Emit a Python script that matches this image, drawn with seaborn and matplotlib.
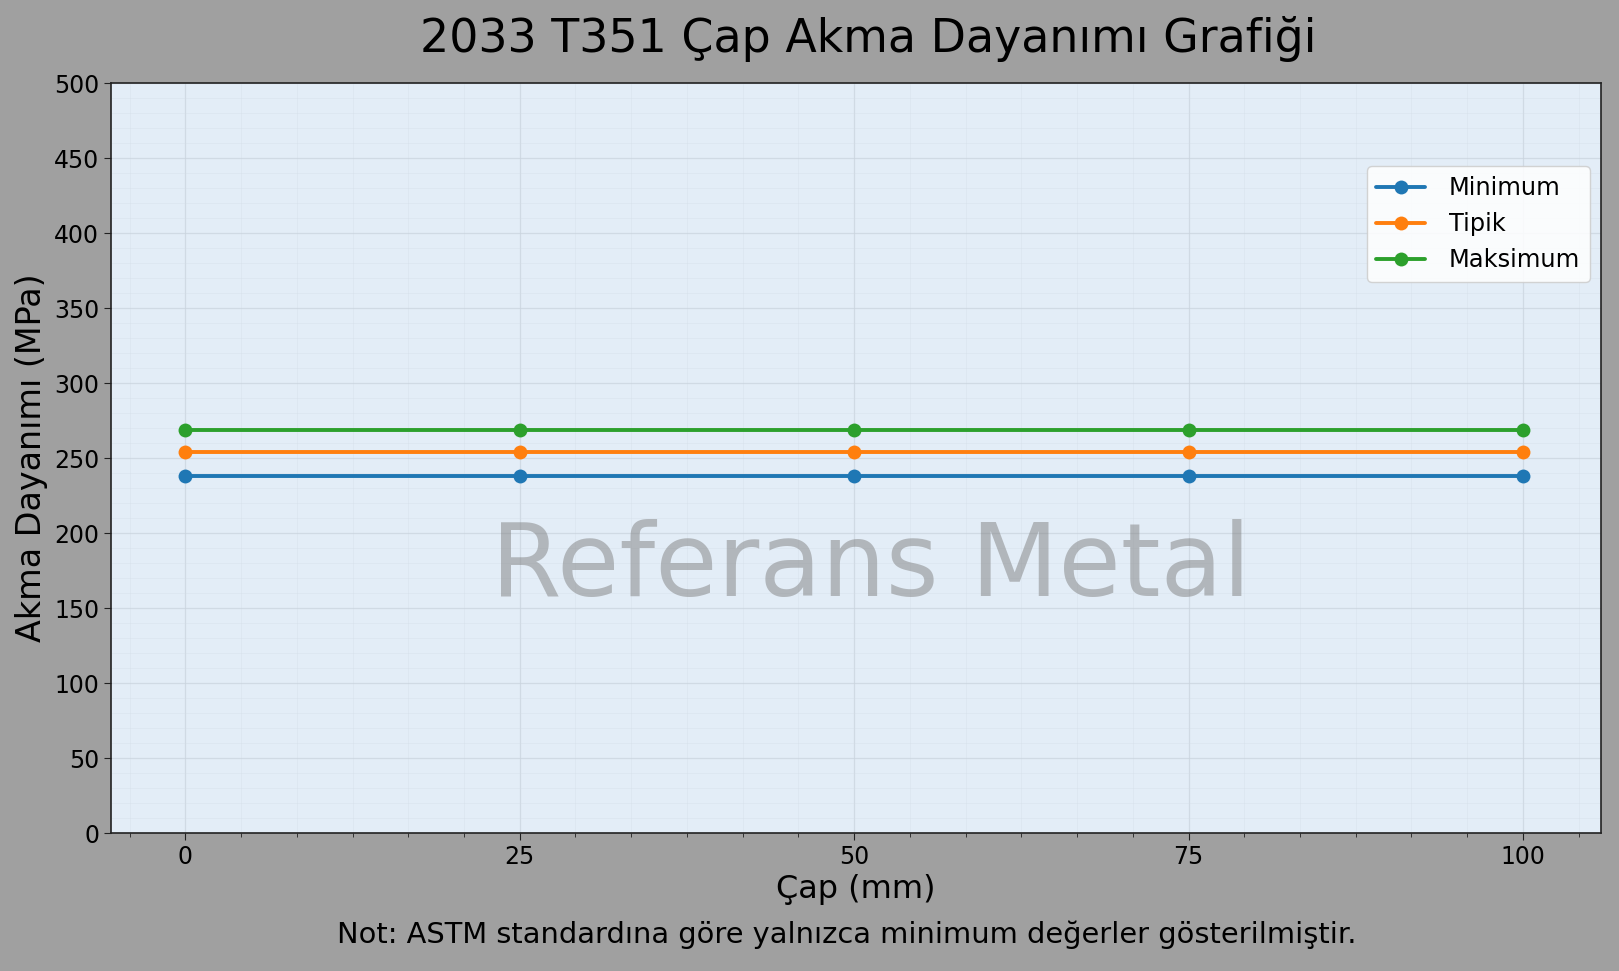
import numpy as np
import pandas as pd
import matplotlib
matplotlib.use('Agg')
import matplotlib.pyplot as plt
import seaborn as sns
from matplotlib.ticker import MultipleLocator

# veri
cap = [0, 25, 50, 75, 100]
minimum = [238, 238, 238, 238, 238]
tipik = [254, 254, 254, 254, 254]
maksimum = [269, 269, 269, 269, 269]
seriler = ['Minimum', 'Tipik', 'Maksimum']
renkler = ['#1f77b4', '#ff7f0e', '#2ca02c']
y_ticks = [0, 50, 100, 150, 200, 250, 300, 350, 400, 450, 500]

sns.set_style('ticks')
plt.rcParams['font.family'] = ['DejaVu Sans']
plt.rcParams['text.color'] = 'black'
plt.rcParams['axes.labelcolor'] = 'black'
plt.rcParams['xtick.color'] = 'black'
plt.rcParams['ytick.color'] = 'black'

df = pd.DataFrame({
    'Çap': cap * 3,
    'Değer': minimum + tipik + maksimum,
    'Seri': [s for s in seriler for _ in cap],
})

fig = plt.figure(figsize=(16.19, 9.71), dpi=100, facecolor='#a0a0a0')
ax = fig.add_axes([0.0686, 0.142, 0.9204, 0.7725])
ax.set_facecolor('#e3edf7')

sns.lineplot(data=df, x='Çap', y='Değer', hue='Seri', palette=renkler,
             marker='o', markersize=10, markeredgewidth=0, linewidth=2.8, ax=ax)

ax.set_xlim(-5.55, 105.85)
ax.set_ylim(0, 500)
ax.set_xticks(cap)
ax.set_yticks(y_ticks)
ax.xaxis.set_minor_locator(MultipleLocator(25 / 6))
ax.yaxis.set_minor_locator(MultipleLocator(10))
ax.tick_params(axis='both', which='major', labelsize=17, length=5, color='#222222')
ax.tick_params(axis='x', which='minor', length=3, color='#222222')
ax.tick_params(axis='y', which='minor', length=0)
ax.grid(True, which='major', color='#c9d3dd', linewidth=0.9, alpha=0.7)
ax.grid(True, which='minor', color='#d3dce6', linewidth=0.6, alpha=0.4)
for sp in ax.spines.values():
    sp.set_visible(True)
    sp.set_color('#222222')
    sp.set_linewidth(1.2)

ax.set_title('2033 T351 Çap Akma Dayanımı Grafiği', fontsize=33, pad=22, x=0.508)
ax.set_xlabel('Çap (mm)', fontsize=23, labelpad=4)
ax.set_ylabel('Akma Dayanımı (MPa)', fontsize=24, labelpad=4)

ax.text(0.510, 0.354, 'Referans Metal', transform=ax.transAxes, fontsize=73,
        color='gray', alpha=0.5, ha='center', va='center', zorder=5)

handles, labels = ax.get_legend_handles_labels()
ax.legend(handles, labels, loc='upper right', bbox_to_anchor=(1.0005, 0.905),
          fontsize=17.4, framealpha=0.85, borderpad=0.4, handlelength=2.0,
          handletextpad=1.0)

fig.text(0.523, 0.037, 'Not: ASTM standardına göre yalnızca minimum değerler gösterilmiştir.',
         ha='center', va='center', fontsize=20.8)

fig.savefig('out.png', dpi=100, facecolor=fig.get_facecolor())
